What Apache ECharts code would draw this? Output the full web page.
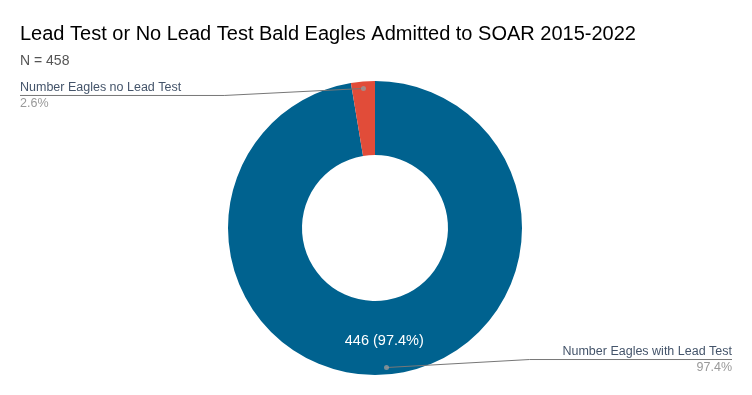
<!DOCTYPE html>
<html>
<head>
<meta charset="utf-8">
<script src="https://cdn.jsdelivr.net/npm/echarts@6/dist/echarts.min.js"></script>
<style>
html,body{margin:0;padding:0;background:#fff;}
#chart{width:752px;height:395px;}
</style>
</head>
<body>
<div id="chart"></div>
<script>
var titleText = 'Lead Test or No Lead Test Bald Eagles Admitted to SOAR 2015-2022';
var subtitleText = 'N = 458';
var categories = ['Number Eagles with Lead Test', 'Number Eagles no Lead Test'];
var values = [446, 12];
var colors = ['#00628f', '#e14c39'];

var total = values.reduce(function (a, b) { return a + b; }, 0);
var midValues = [];
var cum = 0;
values.forEach(function (v) { midValues.push(cum + v / 2); cum += v; });
var DOT_R = 140;
var dotData = midValues.map(function (m) { return [DOT_R, m]; });

var chart = echarts.init(document.getElementById('chart'));
var FONT = '"Liberation Sans", Arial, sans-serif';
var CX = 375, CY = 228;

function dotPoint(i) {
  var a = Math.PI / 2 - midValues[i] / total * Math.PI * 2;
  return [CX + DOT_R * Math.cos(a), CY - DOT_R * Math.sin(a)];
}

chart.setOption({
  backgroundColor: '#ffffff',
  animation: false,
  title: {
    text: titleText,
    subtext: subtitleText,
    left: 15,
    top: 19,
    itemGap: 10,
    textStyle: { fontFamily: FONT, fontSize: 20, fontWeight: 'normal', color: '#000000' },
    subtextStyle: { fontFamily: FONT, fontSize: 14, color: '#555555' }
  },
  polar: { center: [CX, CY], radius: 147 },
  radiusAxis: { type: 'value', min: 0, max: 147, show: false },
  angleAxis: { type: 'value', min: 0, max: total, startAngle: 90, clockwise: true, show: false },
  series: [
    {
      type: 'pie',
      z: 2,
      center: [CX, CY],
      radius: [73, 147],
      startAngle: 90,
      clockwise: true,
      percentPrecision: 1,
      silent: true,
      itemStyle: { borderWidth: 0 },
      label: {
        position: 'inside',
        formatter: '{c} ({d}%)',
        color: '#ffffff',
        fontFamily: FONT,
        fontSize: 14.5
      },
      labelLine: { show: false },
      data: categories.map(function (c, i) {
        return {
          name: c, value: values[i],
          itemStyle: { color: colors[i] },
          label: { show: i === 0 }
        };
      })
    },
    {
      type: 'pie',
      z: 4,
      center: [CX, CY],
      radius: [0, DOT_R],
      startAngle: 90,
      clockwise: true,
      percentPrecision: 1,
      silent: true,
      avoidLabelOverlap: false,
      itemStyle: { color: 'rgba(0,0,0,0)' },
      label: {
        show: true,
        position: 'outer',
        alignTo: 'edge',
        edgeDistance: 20,
        overflow: 'none',
        formatter: '{name|{b}}\n{pct|{d}%}',
        rich: {
          name: { fontFamily: FONT, fontSize: 12.5, lineHeight: 16, color: '#44546a' },
          pct: { fontFamily: FONT, fontSize: 12.5, lineHeight: 16, color: '#999999' }
        }
      },
      labelLine: {
        show: true,
        length: 0,
        length2: 10,
        lineStyle: { color: '#777777', width: 1 }
      },
      labelLayout: function (p) {
        var r = p.labelRect;
        var isLeft = r.x + r.width / 2 < CX;
        var dy = isLeft ? 7 : -8;
        var uy = r.y + dy + r.height / 2;
        var start = dotPoint(p.dataIndex);
        var edgeX = isLeft ? r.x : r.x + r.width;
        var elbowX = isLeft ? r.x + r.width + 43 : r.x - 33;
        return {
          dy: dy,
          labelLinePoints: [start, [elbowX, uy], [edgeX, uy]]
        };
      },
      data: categories.map(function (c, i) {
        return { name: c, value: values[i] };
      })
    },
    {
      type: 'scatter',
      coordinateSystem: 'polar',
      symbol: 'circle',
      symbolSize: 5,
      silent: true,
      z: 6,
      itemStyle: { color: '#999999' },
      data: dotData
    }
  ]
});
</script>
</body>
</html>
